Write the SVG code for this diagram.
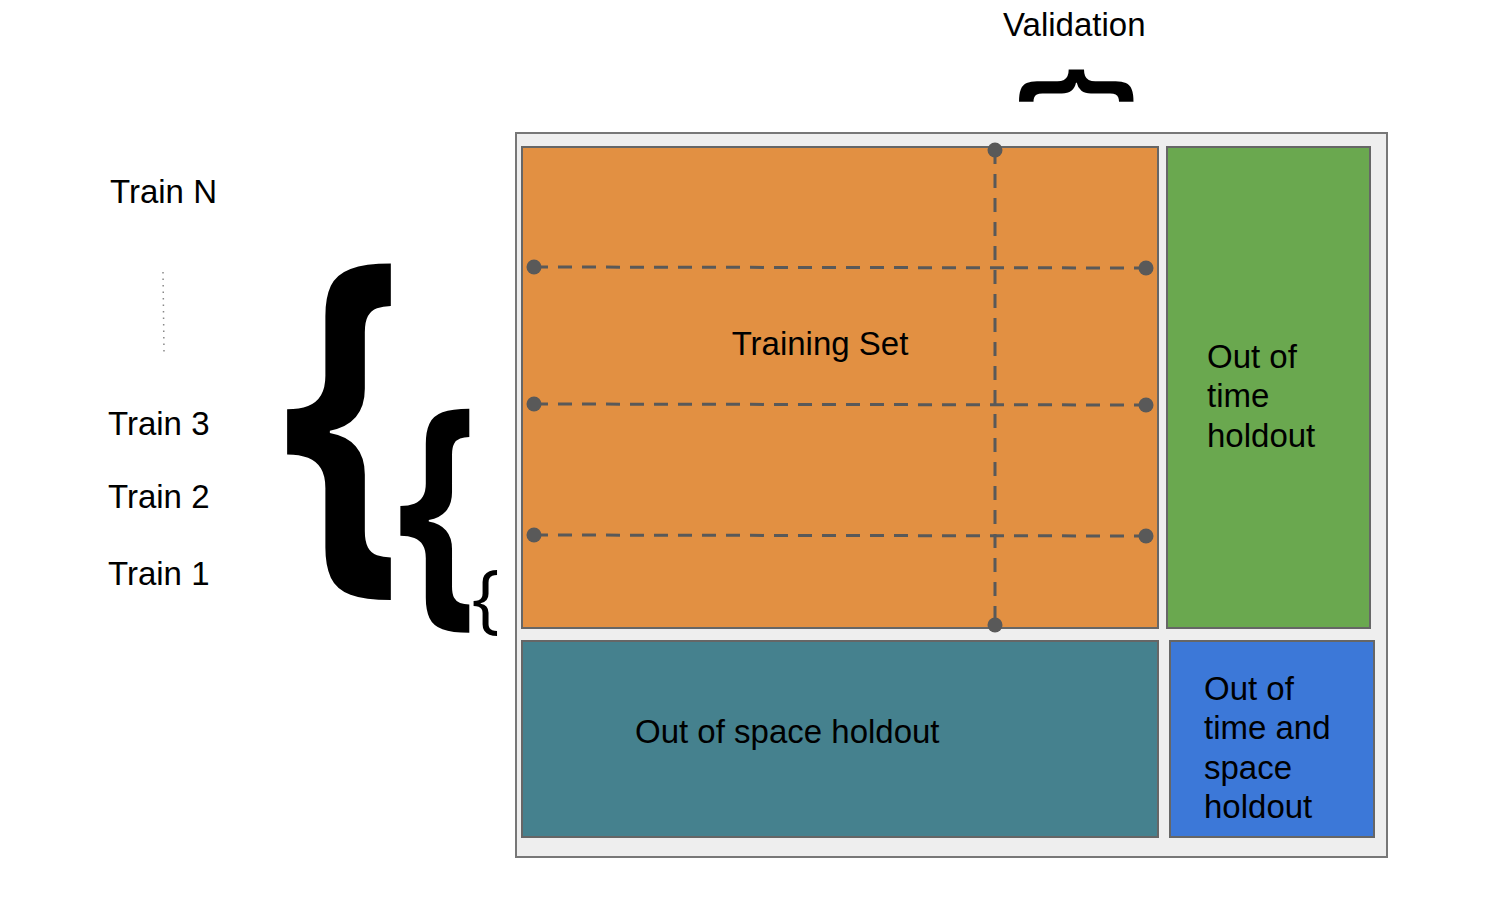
<svg xmlns="http://www.w3.org/2000/svg" width="1508" height="898" viewBox="0 0 1508 898">
<style>
.t{font-family:"Liberation Sans",Arial,sans-serif;font-size:33px;fill:#000}
.br{font-family:"Open Sans",sans-serif;font-weight:700;fill:#000}
.box{stroke:#666;stroke-width:2}
.dash{stroke:#595959;stroke-width:3;stroke-dasharray:14,10;fill:none}
.dot{fill:#595959}
</style>
<rect width="1508" height="898" fill="#fff"/>
<g id="labels">
<text class="t" x="110" y="203">Train N</text>
<text class="t" x="108" y="435">Train 3</text>
<text class="t" x="108" y="508">Train 2</text>
<text class="t" x="108" y="585">Train 1</text>
<text class="t" x="1003" y="36">Validation</text>
<line x1="163" y1="272" x2="164" y2="352" stroke="#888" stroke-width="1.5" stroke-dasharray="1.5,5"/>
</g>
<g id="braces">
<text class="br" transform="translate(282.5,539) scale(0.9,1.135)" x="0" y="0" font-size="340">{</text>
<text class="br" transform="translate(397.3,592.2) scale(0.9,1.137)" x="0" y="0" font-size="226">{</text>
<text transform="translate(471.5,623.6)" x="0" y="0" style="font-family:'Open Sans',sans-serif;font-size:74.5px;fill:#000">{</text>
<text class="br" transform="translate(1076,68) rotate(90) scale(0.85,1.1667)" x="0" y="31" font-size="112">{</text>
</g>
<g id="container"><rect x="516" y="133" width="871" height="724" fill="#eeeeee" stroke="#777" stroke-width="2"/></g>
<g id="training"><rect class="box" x="522" y="147" width="636" height="481" fill="#e29042"/>
<text class="t" x="820" y="355" text-anchor="middle">Training Set</text></g>
<g id="oot"><rect class="box" x="1167" y="147" width="203" height="481" fill="#6aa84f"/>
<text class="t" x="1207" y="368">Out of</text><text class="t" x="1207" y="407">time</text><text class="t" x="1207" y="447">holdout</text></g>
<g id="oos"><rect class="box" x="522" y="641" width="636" height="196" fill="#45818e"/>
<text class="t" x="635" y="743">Out of space holdout</text></g>
<g id="ootas"><rect class="box" x="1170" y="641" width="204" height="196" fill="#3c78d8"/>
<text class="t" x="1204" y="700">Out of</text><text class="t" x="1204" y="739">time and</text><text class="t" x="1204" y="779">space</text><text class="t" x="1204" y="818">holdout</text></g>
<g id="connectors">
<line class="dash" x1="534" y1="267" x2="1146" y2="268"/>
<line class="dash" x1="534" y1="404" x2="1146" y2="405"/>
<line class="dash" x1="534" y1="535" x2="1146" y2="536"/>
<line class="dash" x1="995" y1="150" x2="995" y2="625"/>
<circle class="dot" cx="534" cy="267" r="7.5"/><circle class="dot" cx="1146" cy="268" r="7.5"/>
<circle class="dot" cx="534" cy="404" r="7.5"/><circle class="dot" cx="1146" cy="405" r="7.5"/>
<circle class="dot" cx="534" cy="535" r="7.5"/><circle class="dot" cx="1146" cy="536" r="7.5"/>
<circle class="dot" cx="995" cy="150" r="7.5"/><circle class="dot" cx="995" cy="625" r="7.5"/>
</g>
</svg>
